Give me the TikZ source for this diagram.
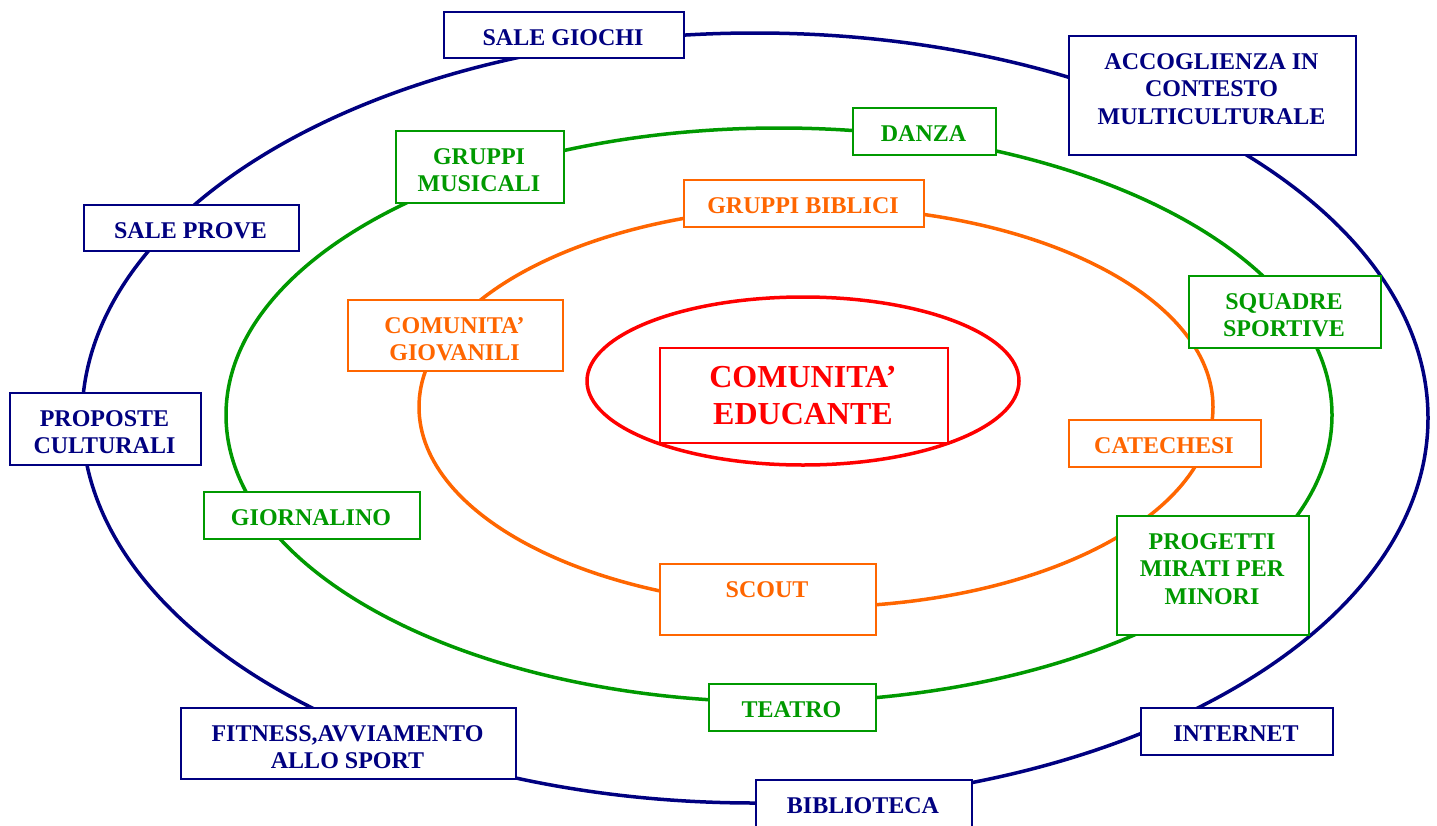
\documentclass[tikz,border=0pt]{standalone}
\usepackage{fontspec}
\setmainfont{Liberation Serif}
\definecolor{navyc}{RGB}{0,0,128}
\definecolor{greenc}{RGB}{0,153,0}
\definecolor{orangec}{RGB}{255,102,0}
\definecolor{redc}{RGB}{255,0,0}
\tikzset{
  ring/.style={line width=3.5pt},
  boxframe/.style={draw, fill=white, line width=2pt, inner sep=0pt, anchor=north west},
  boxlabel/.style={anchor=north, align=center, inner sep=0pt, font=\bfseries\fontsize{24}{27.6}\selectfont},
  biglabel/.style={anchor=north, align=center, inner sep=0pt, font=\bfseries\fontsize{32}{36.8}\selectfont},
}
% name, x1, y1, x2, y2, colour, text
\newcommand{\labbox}[7]{%
  \node[boxframe, draw=#6, minimum width={#4pt-#2pt}, minimum height={#5pt-#3pt}] (#1) at (#2,#3) {};
  \node[boxlabel, text=#6] (#1-t) at ({(#2+#4)/2},{#3+14}) {\rule{0pt}{20pt}#7};
}
\begin{document}
\begin{tikzpicture}[x=1pt,y=-1pt]
\useasboundingbox (0,0) rectangle (1437,825);
\clip (0,0) rectangle (1437,825);
\fill[white] (0,0) rectangle (1437,825);
% rings
\draw[ring, navyc] (755,418) ellipse [x radius=673, y radius=385];
\draw[ring, greenc] (779,415) ellipse [x radius=553, y radius=287];
\draw[ring, orangec] (816,407) ellipse [x radius=397, y radius=200];
\draw[ring, redc] (803,381) ellipse [x radius=216, y radius=84];
% outer ring boxes
\labbox{salegiochi}{443}{11}{683}{57}{navyc}{SALE GIOCHI}
\labbox{accoglienza}{1068}{35}{1355}{154}{navyc}{ACCOGLIENZA IN\\CONTESTO\\MULTICULTURALE}
\labbox{saleprove}{83}{204}{298}{250}{navyc}{SALE PROVE}
\labbox{proposte}{9}{392}{200}{464}{navyc}{PROPOSTE\\CULTURALI}
\labbox{fitness}{180}{707}{515}{778}{navyc}{FITNESS,AVVIAMENTO\\ALLO SPORT}
\labbox{biblioteca}{755}{779}{971}{845}{navyc}{BIBLIOTECA}
\labbox{internet}{1140}{707}{1332}{754}{navyc}{INTERNET}
% middle ring boxes
\labbox{musicali}{395}{130}{563}{202}{greenc}{GRUPPI\\MUSICALI}
\labbox{danza}{852}{107}{995}{154}{greenc}{DANZA}
\labbox{squadre}{1188}{275}{1380}{347}{greenc}{SQUADRE\\SPORTIVE}
\labbox{giornalino}{203}{491}{419}{538}{greenc}{GIORNALINO}
\labbox{teatro}{708}{683}{875}{730}{greenc}{TEATRO}
\labbox{progetti}{1116}{515}{1308}{634}{greenc}{PROGETTI\\MIRATI PER\\MINORI}
% inner ring boxes
\labbox{biblici}{683}{179}{923}{226}{orangec}{GRUPPI BIBLICI}
\labbox{giovanili}{347}{299}{562}{370}{orangec}{COMUNITA’\\GIOVANILI}
\labbox{catechesi}{1068}{419}{1260}{466}{orangec}{CATECHESI}
\labbox{scout}{659}{563}{875}{634}{orangec}{SCOUT}
% centre
\node[boxframe, draw=redc, minimum width=288pt, minimum height=95pt] (educante) at (659,347) {};
\node[biglabel, text=redc] (educante-t) at (803,361) {\rule{0pt}{26pt}COMUNITA’\\EDUCANTE};
\end{tikzpicture}
\end{document}
